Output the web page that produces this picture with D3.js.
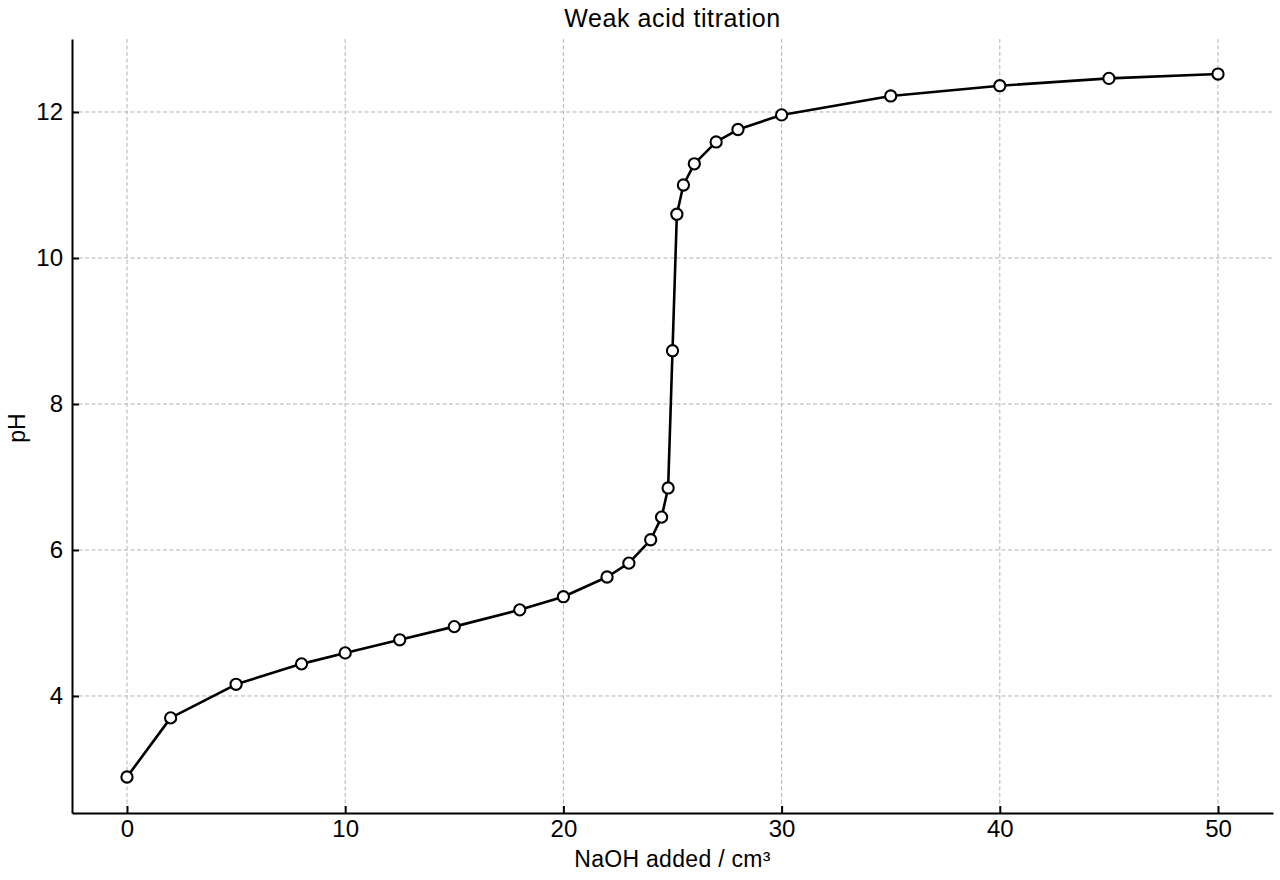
<!DOCTYPE html>
<html>
<head>
<meta charset="utf-8">
<script src="https://cdn.jsdelivr.net/npm/d3@7"></script>
<style>
  body { margin: 0; background: #fff; }
  svg { font-family: "Liberation Sans", Arial, sans-serif; }
</style>
</head>
<body>
<svg id="chart" width="1280" height="880"></svg>
<script>
// titration readings
var volume = [0, 2, 5, 8, 10, 12.5, 15, 18, 20, 22, 23, 24, 24.5, 24.8, 25, 25.2, 25.5, 26, 27, 28, 30, 35, 40, 45, 50];
var pH = [2.89, 3.70, 4.16, 4.44, 4.59, 4.77, 4.95, 5.18, 5.36, 5.63, 5.82, 6.14, 6.45, 6.85, 8.73, 10.60, 11.00, 11.29, 11.59, 11.76, 11.96, 12.22, 12.36, 12.46, 12.52];
var xTicks = [0, 10, 20, 30, 40, 50];
var yTicks = [4, 6, 8, 10, 12];

var svg = d3.select("#chart"),
    margin = {top: 39, right: 7, bottom: 67, left: 72},
    width = +svg.attr("width") - margin.left - margin.right,
    height = +svg.attr("height") - margin.top - margin.bottom;

var x = d3.scaleLinear().domain([-2.52, 52.52]).range([0, width]);
var y = d3.scaleLinear().domain([2.397, 13.0]).range([height, 0]);

var g = svg.append("g").attr("transform", "translate(" + margin.left + "," + margin.top + ")");

// grid
g.selectAll(".vgrid").data(xTicks).enter().append("line")
  .attr("x1", function(d) { return x(d); }).attr("x2", function(d) { return x(d); })
  .attr("y1", 0).attr("y2", height)
  .attr("stroke", "#b4b4b4").attr("stroke-width", 1).attr("stroke-dasharray", "4,2.5");
g.selectAll(".hgrid").data(yTicks).enter().append("line")
  .attr("y1", function(d) { return y(d); }).attr("y2", function(d) { return y(d); })
  .attr("x1", 0).attr("x2", width)
  .attr("stroke", "#b4b4b4").attr("stroke-width", 1).attr("stroke-dasharray", "4,2.5");

// axes, ticks pointing inward
var xAxis = g.append("g").attr("transform", "translate(0," + height + ")")
  .call(d3.axisBottom(x).tickValues(xTicks).tickSizeInner(-7).tickSizeOuter(0).tickPadding(7));
var yAxis = g.append("g")
  .call(d3.axisLeft(y).tickValues(yTicks).tickSizeInner(-7).tickSizeOuter(0).tickPadding(9));

[xAxis, yAxis].forEach(function(a) {
  a.select(".domain").attr("stroke", "#000").attr("stroke-width", 2);
  a.selectAll(".tick line").attr("stroke", "#000").attr("stroke-width", 2);
  a.selectAll(".tick text").attr("fill", "#000").style("font-size", "24px").style("font-family", "Liberation Sans, Arial, sans-serif");
});
xAxis.selectAll(".tick text").attr("dy", "0.72em");

// curve
var line = d3.line()
  .x(function(d, i) { return x(volume[i]); })
  .y(function(d) { return y(d); });

g.append("path")
  .datum(pH)
  .attr("fill", "none")
  .attr("stroke", "#000")
  .attr("stroke-width", 2.6)
  .attr("stroke-linejoin", "round")
  .attr("d", line);

g.selectAll(".pt").data(pH).enter().append("circle")
  .attr("cx", function(d, i) { return x(volume[i]); })
  .attr("cy", function(d) { return y(d); })
  .attr("r", 5.6)
  .attr("fill", "#fff")
  .attr("stroke", "#000")
  .attr("stroke-width", 2.1);

// labels
svg.append("text")
  .attr("x", margin.left + width / 2).attr("y", 27)
  .attr("text-anchor", "middle").style("font-size", "25px").style("letter-spacing", "0.6px")
  .text("Weak acid titration");

svg.append("text")
  .attr("x", margin.left + width / 2).attr("y", 867)
  .attr("text-anchor", "middle").style("font-size", "23px").style("letter-spacing", "0.3px")
  .text("NaOH added / cm³");

svg.append("text")
  .attr("transform", "translate(25," + (margin.top + height / 2 + 2) + ") rotate(-90)")
  .attr("text-anchor", "middle").style("font-size", "23px")
  .text("pH");
</script>
</body>
</html>
